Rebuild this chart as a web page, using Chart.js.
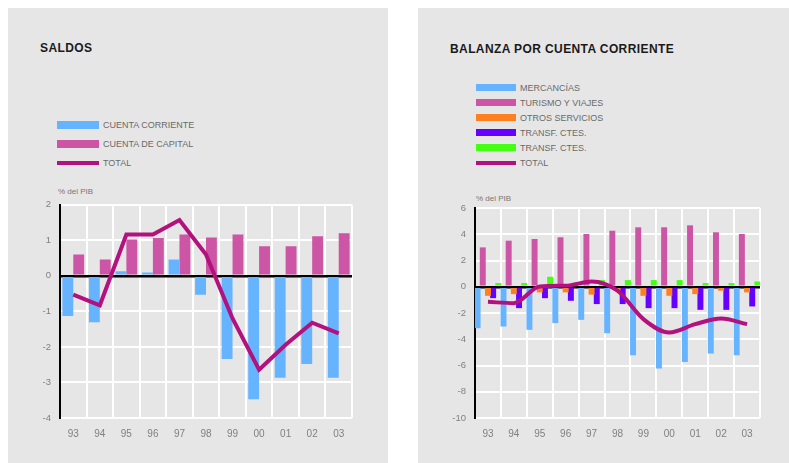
<!DOCTYPE html>
<html>
<head>
<meta charset="utf-8">
<script src="https://cdn.jsdelivr.net/npm/chart.js@4.4.1/dist/chart.umd.min.js"></script>
<style>
  html, body { margin: 0; padding: 0; background: #fff; }
  body { width: 789px; height: 463px; position: relative; overflow: hidden; font-family: "Liberation Sans", Arial, sans-serif; }
  .panel { position: absolute; top: 8px; height: 460px; background: #e6e6e6; }
  .title { position: absolute; font-size: 12px; font-weight: bold; letter-spacing: 0.4px; color: #1a1a1a; }
  .unit { position: absolute; font-size: 8px; color: #777; }
  .legend { position: absolute; font-size: 9px; color: #6a6a6a; }
  .legend .item { position: relative; height: 19px; }
  .legend .sw { position: absolute; left: 0; }
  .legend .txt { position: absolute; white-space: nowrap; top: 50%; transform: translateY(-50%); }
  .box { position: absolute; top: 190px; height: 260px; }
</style>
</head>
<body>
<div class="panel" style="left:8px;width:380px"></div>
<div class="panel" style="left:418px;width:371px"></div>

<div class="title" style="left:40px;top:41px">SALDOS</div>
<div class="title" style="left:450px;top:42px">BALANZA POR CUENTA CORRIENTE</div>

<div class="legend" id="legendSaldos" style="left:57px;top:115px"></div>
<div class="legend" id="legendBalanza" style="left:476px;top:80px"></div>

<div class="unit" style="left:58px;top:187px">% del PIB</div>
<div class="unit" style="left:476px;top:194px">% del PIB</div>

<div class="box" style="left:8px;width:380px"><canvas id="saldosChart"></canvas></div>
<div class="box" style="left:418px;width:371px"><canvas id="balanzaChart"></canvas></div>

<script>
// --- data ---
const years = ['93', '94', '95', '96', '97', '98', '99', '00', '01', '02', '03'];

// Saldos
const cuentaCorriente = [-1.13, -1.31, 0.13, 0.09, 0.46, -0.53, -2.34, -3.47, -2.87, -2.48, -2.87];
const cuentaCapital   = [0.60, 0.46, 1.02, 1.06, 1.16, 1.08, 1.16, 0.83, 0.83, 1.11, 1.20];
const saldoTotal      = [-0.53, -0.83, 1.16, 1.16, 1.57, 0.60, -1.20, -2.64, -1.94, -1.32, -1.62];

// Balanza por cuenta corriente
const mercancias     = [-3.16, -3.03, -3.28, -2.77, -2.52, -3.54, -5.22, -6.23, -5.73, -5.09, -5.22];
const turismo        = [3.00, 3.51, 3.64, 3.77, 4.02, 4.27, 4.53, 4.53, 4.68, 4.15, 4.02];
const otrosServicios = [-0.69, -0.56, -0.43, -0.43, -0.60, -0.30, -0.69, -0.69, -0.56, -0.30, -0.43];
const transfCtes1    = [-0.87, -1.63, -0.87, -1.07, -1.32, -1.32, -1.63, -1.63, -1.76, -1.76, -1.50];
const transfCtes2    = [0.28, 0.28, 0.76, 0.30, 0.51, 0.51, 0.51, 0.51, 0.28, 0.28, 0.40];
const balanzaTotal   = [-1.15, -1.25, 0.02, 0.08, 0.40, -0.30, -2.47, -3.49, -2.85, -2.42, -2.85];

const saldosTicks = { min: -4, max: 2, step: 1 };
const balanzaTicks = { min: -10, max: 6, step: 2 };

// --- colores ---
const AZUL = '#66b3ff';
const ROSA = '#cc55a5';
const NARANJA = '#ff8020';
const VIOLETA = '#6600ff';
const VERDE = '#44ff11';
const MAGENTA = '#b3117d';

// leyendas en HTML
function buildLegend(el, items, rowH, swW, swH) {
    el.innerHTML = items.map(it =>
        `<div class="item" style="height:${rowH}px">` +
        `<span class="sw" style="width:${swW}px;height:${it.line ? 4 : swH}px;top:${(rowH - (it.line ? 4 : swH)) / 2}px;background:${it.color}"></span>` +
        `<span class="txt" style="left:${swW + 4}px">${it.label}</span></div>`
    ).join('');
}

buildLegend(document.getElementById('legendSaldos'), [
    { label: 'CUENTA CORRIENTE', color: AZUL },
    { label: 'CUENTA DE CAPITAL', color: ROSA },
    { label: 'TOTAL', color: MAGENTA, line: true }
], 19, 42, 8);

buildLegend(document.getElementById('legendBalanza'), [
    { label: 'MERCANCÍAS', color: AZUL },
    { label: 'TURISMO Y VIAJES', color: ROSA },
    { label: 'OTROS SERVICIOS', color: NARANJA },
    { label: 'TRANSF. CTES.', color: VIOLETA },
    { label: 'TRANSF. CTES.', color: VERDE },
    { label: 'TOTAL', color: MAGENTA, line: true }
], 15, 40, 7);

// opciones comunes de ejes
function makeScales(t, yWidth) {
    return {
        x: {
            offset: true,
            border: { display: false },
            grid: {
                offset: true,
                drawTicks: false,
                color: c => (c.index === 0 ? 'rgba(0,0,0,0)' : '#ffffff'),
                lineWidth: 2
            },
            ticks: { color: '#808080', font: { family: 'Liberation Sans', size: 10 }, padding: 10, maxRotation: 0 },
            afterFit: s => { s.height = 32; }
        },
        y: {
            min: t.min,
            max: t.max,
            border: { display: true, color: '#000', width: 2 },
            grid: {
                drawTicks: false,
                color: c => (c.tick && c.tick.value === 0 ? '#000000' : '#ffffff'),
                lineWidth: c => (c.tick && c.tick.value === 0 ? 2.5 : 2)
            },
            ticks: { stepSize: t.step, color: '#808080', font: { family: 'Liberation Sans', size: 9.5 }, padding: 9 },
            afterFit: s => { s.width = yWidth; }
        }
    };
}

const commonOpts = {
    responsive: true,
    maintainAspectRatio: false,
    animation: false,
    plugins: { legend: { display: false }, tooltip: { enabled: false } }
};

// 1. Saldos
new Chart(document.getElementById('saldosChart'), {
    type: 'bar',
    data: {
        labels: years,
        datasets: [
            { label: 'CUENTA CORRIENTE', data: cuentaCorriente, backgroundColor: AZUL, order: 1, categoryPercentage: 0.82, barPercentage: 1 },
            { label: 'CUENTA DE CAPITAL', data: cuentaCapital, backgroundColor: ROSA, order: 1, categoryPercentage: 0.82, barPercentage: 1 },
            { type: 'line', label: 'TOTAL', data: saldoTotal, borderColor: MAGENTA, borderWidth: 4, pointRadius: 0, tension: 0, order: 0 }
        ]
    },
    options: Object.assign({}, commonOpts, {
        layout: { padding: { top: 12, right: 36, left: 0, bottom: 0 } },
        scales: makeScales(saldosTicks, 52)
    })
});

// 2. Balanza por cuenta corriente
const barOpts = { order: 1, categoryPercentage: 1, barPercentage: 1.15 };
new Chart(document.getElementById('balanzaChart'), {
    type: 'bar',
    data: {
        labels: years,
        datasets: [
            Object.assign({ label: 'MERCANCÍAS', data: mercancias, backgroundColor: AZUL }, barOpts),
            Object.assign({ label: 'TURISMO Y VIAJES', data: turismo, backgroundColor: ROSA }, barOpts),
            Object.assign({ label: 'OTROS SERVICIOS', data: otrosServicios, backgroundColor: NARANJA }, barOpts),
            Object.assign({ label: 'TRANSF. CTES.', data: transfCtes1, backgroundColor: VIOLETA }, barOpts),
            Object.assign({ label: 'TRANSF. CTES.', data: transfCtes2, backgroundColor: VERDE }, barOpts),
            { type: 'line', label: 'TOTAL', data: balanzaTotal, borderColor: MAGENTA, borderWidth: 4, pointRadius: 0, cubicInterpolationMode: 'monotone', order: 0 }
        ]
    },
    options: Object.assign({}, commonOpts, {
        layout: { padding: { top: 18, right: 29, left: 0, bottom: 0 } },
        scales: makeScales(balanzaTicks, 57)
    })
});
</script>
</body>
</html>
